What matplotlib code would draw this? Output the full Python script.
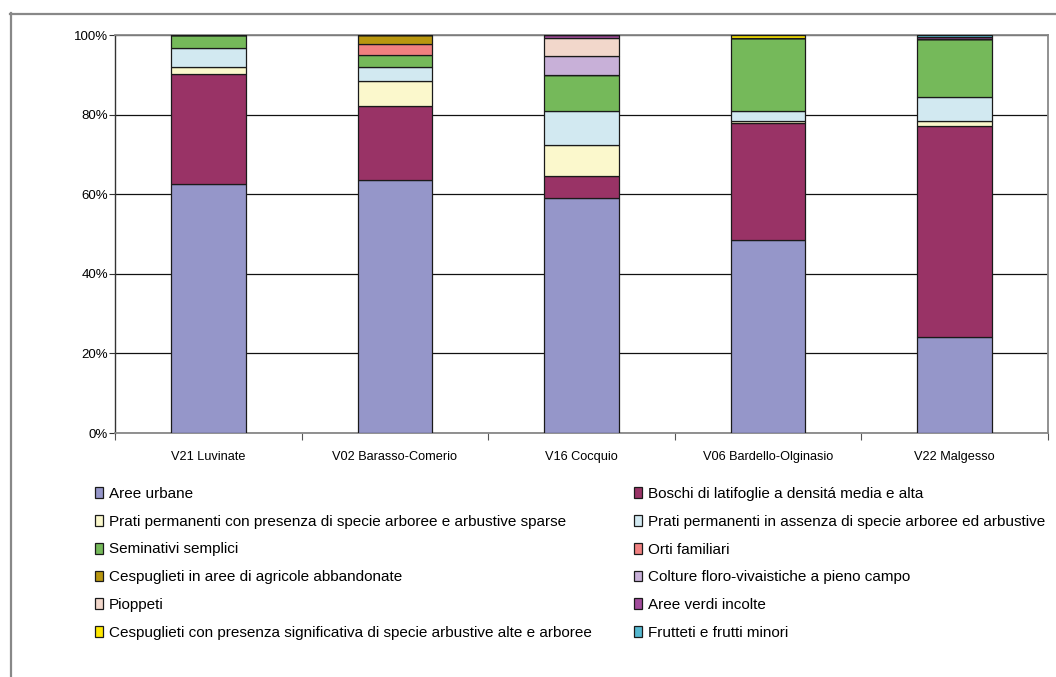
import matplotlib
matplotlib.use("Agg")
import matplotlib.pyplot as plt
import numpy as np
from matplotlib.lines import Line2D
from matplotlib.patches import Patch

plt.rcParams['font.family'] = ['Liberation Sans', 'DejaVu Sans']

categories = ["V21 Luvinate", "V02 Barasso-Comerio", "V16 Cocquio",
              "V06 Bardello-Olginasio", "V22 Malgesso"]

series_names = [
    "Aree urbane",
    "Boschi di latifoglie a densitá media e alta",
    "Prati permanenti con presenza di specie arboree e arbustive sparse",
    "Prati permanenti in assenza di specie arboree ed arbustive",
    "Seminativi semplici",
    "Orti familiari",
    "Cespuglieti in aree di agricole abbandonate",
    "Colture floro-vivaistiche a pieno campo",
    "Pioppeti",
    "Aree verdi incolte",
    "Cespuglieti con presenza significativa di specie arbustive alte e arboree",
    "Frutteti e frutti minori",
]

aree_urbane      = [62.5, 63.6, 59.0, 48.5, 24.0]
boschi           = [27.7, 18.5, 5.5, 29.5, 53.1]
prati_sparse     = [1.7, 6.3, 7.8, 0.4, 1.3]
prati_assenza    = [4.8, 3.5, 8.7, 2.6, 5.9]
seminativi       = [3.3, 3.2, 8.9, 18.2, 14.6]
orti             = [0.0, 2.6, 0.0, 0.0, 0.0]
cesp_abbandonate = [0.0, 2.3, 0.0, 0.0, 0.0]
colture_floro    = [0.0, 0.0, 4.9, 0.0, 0.0]
pioppeti         = [0.0, 0.0, 4.4, 0.0, 0.0]
aree_verdi       = [0.0, 0.0, 0.8, 0.0, 0.5]
cesp_presenza    = [0.0, 0.0, 0.0, 0.8, 0.0]
frutteti         = [0.0, 0.0, 0.0, 0.0, 0.6]

series_values = [aree_urbane, boschi, prati_sparse, prati_assenza, seminativi,
                 orti, cesp_abbandonate, colture_floro, pioppeti, aree_verdi,
                 cesp_presenza, frutteti]

colors = ["#9596C9", "#993366", "#FBF8CC", "#D2E9F1", "#75B95A", "#F08080",
          "#B8960F", "#C8B0D8", "#F2D7CB", "#A24C9C", "#FFE800", "#55B8D0"]

ytick_labels = ["0%", "20%", "40%", "60%", "80%", "100%"]

W, H = 1056, 677
fig = plt.figure(figsize=(W / 100, H / 100), dpi=100)
ax = fig.add_axes([115 / W, 1 - 433 / H, (1048 - 115) / W, (433 - 35) / H])

x = np.arange(len(categories))
bottom = np.zeros(len(categories))
handles = []
for name, vals, col in zip(series_names, series_values, colors):
    v = np.array(vals)
    ax.bar(x, v, width=0.4, bottom=bottom, color=col, edgecolor="#1a1a1a",
           linewidth=0.9, zorder=3)
    bottom += v
    handles.append(Patch(facecolor=col, edgecolor="#1a1a1a", linewidth=0.9, label=name))

ax.set_xlim(-0.5, len(categories) - 0.5)
ax.set_ylim(0, 100)
ax.set_yticks(np.arange(0, 101, 20))
ax.set_yticklabels(ytick_labels)
ax.set_xticks(x)
ax.set_xticklabels(categories)
ax.set_xticks(np.arange(-0.5, len(categories)), minor=True)
ax.tick_params(axis='x', which='major', length=0, pad=13, labelsize=9.2)
ax.tick_params(axis='x', which='minor', length=5, width=0.8, color="#555555", direction='out')
ax.tick_params(axis='y', length=4, width=0.8, color="#333333", labelsize=9.5, pad=1)
ax.yaxis.grid(True, color="#111111", linewidth=0.9, zorder=0)
ax.set_axisbelow(True)

for s in ["top", "right", "bottom"]:
    ax.spines[s].set_color("#888888")
    ax.spines[s].set_linewidth(1.3)
ax.spines["left"].set_color("#333333")
ax.spines["left"].set_linewidth(1.0)

# outer border (gray lines at left and top)
fig.add_artist(Line2D([10.5 / W, 10.5 / W], [0, 1 - 13 / H], transform=fig.transFigure,
                      color="#888888", linewidth=1.6))
fig.add_artist(Line2D([10 / W, 1], [1 - 13.5 / H, 1 - 13.5 / H], transform=fig.transFigure,
                      color="#888888", linewidth=1.6))

leg_kw = dict(frameon=False, fontsize=11.0, handlelength=0.5, handleheight=0.7,
              handletextpad=0.4, labelspacing=0.9, borderaxespad=0, borderpad=0)
col1 = [handles[i] for i in range(0, 12, 2)]
col2 = [handles[i] for i in range(1, 12, 2)]
fig.legend(handles=col1, loc="upper left", bbox_to_anchor=(95 / W, 1 - 487 / H), **leg_kw)
fig.legend(handles=col2, loc="upper left", bbox_to_anchor=(634 / W, 1 - 487 / H), **leg_kw)

fig.savefig("out.png", dpi=100)
